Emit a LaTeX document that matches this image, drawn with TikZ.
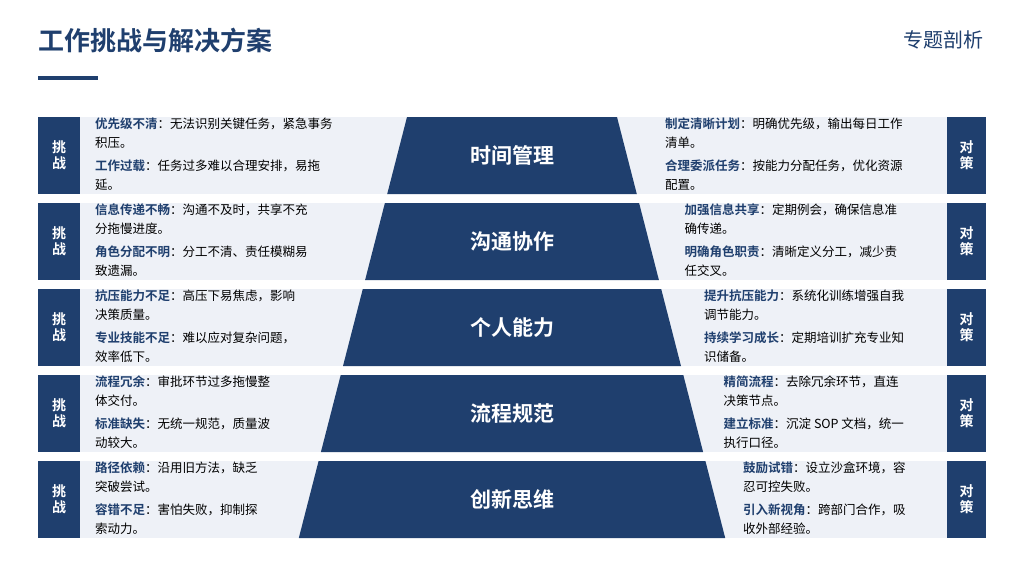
\documentclass[tikz,border=0pt]{standalone}
\usepackage{fontspec}
\setmainfont{Noto Sans CJK SC}
\newfontfamily\cjkb{Noto Sans CJK SC Bold}
\definecolor{navy}{HTML}{1F3F6E}
\definecolor{pale}{HTML}{EEF1F7}
\begin{document}
\begin{tikzpicture}[x=1pt,y=-1pt,
  tag/.style={fill=navy,text=white,font=\cjkb\fontsize{14}{16}\selectfont,align=center,inner sep=0},
  txt/.style={anchor=north west,align=left,inner sep=0,font=\fontsize{12.5}{19}\selectfont},
  ttl/.style={text=white,font=\cjkb\fontsize{21}{24}\selectfont}]
\useasboundingbox (0,0) rectangle (1024,576);
\fill[white] (0,0) rectangle (1024,576);
\node[anchor=west,text=navy,font=\cjkb\fontsize{26}{30}\selectfont,inner sep=0] (title) at (38,40) {工作挑战与解决方案};
\fill[navy] (38,76) rectangle (98,80);
\node[anchor=east,text=navy,font=\fontsize{20}{24}\selectfont,inner sep=0] (sub) at (984,40) {专题剖析};
\newcommand{\Lb}[1]{{\cjkb\color{navy}#1}}
\foreach \i/\T/\LA/\LB/\RA/\RB in {
 0/时间管理/{\Lb{优先级不清}：无法识别关键任务，紧急事务\\积压。}/{\Lb{工作过载}：任务过多难以合理安排，易拖\\延。}/{\Lb{制定清晰计划}：明确优先级，输出每日工作\\清单。}/{\Lb{合理委派任务}：按能力分配任务，优化资源\\配置。},
 1/沟通协作/{\Lb{信息传递不畅}：沟通不及时，共享不充\\分拖慢进度。}/{\Lb{角色分配不明}：分工不清、责任模糊易\\致遗漏。}/{\Lb{加强信息共享}：定期例会，确保信息准\\确传递。}/{\Lb{明确角色职责}：清晰定义分工，减少责\\任交叉。},
 2/个人能力/{\Lb{抗压能力不足}：高压下易焦虑，影响\\决策质量。}/{\Lb{专业技能不足}：难以应对复杂问题，\\效率低下。}/{\Lb{提升抗压能力}：系统化训练增强自我\\调节能力。}/{\Lb{持续学习成长}：定期培训扩充专业知\\识储备。},
 3/流程规范/{\Lb{流程冗余}：审批环节过多拖慢整\\体交付。}/{\Lb{标准缺失}：无统一规范，质量波\\动较大。}/{\Lb{精简流程}：去除冗余环节，直连\\决策节点。}/{\Lb{建立标准}：沉淀 SOP 文档，统一\\执行口径。},
 4/创新思维/{\Lb{路径依赖}：沿用旧方法，缺乏\\突破尝试。}/{\Lb{容错不足}：害怕失败，抑制探\\索动力。}/{\Lb{鼓励试错}：设立沙盒环境，容\\忍可控失败。}/{\Lb{引入新视角}：跨部门合作，吸\\收外部经验。}}{
  \pgfmathsetmacro{\yt}{117+86*\i}
  \pgfmathsetmacro{\yb}{\yt+77}
  \pgfmathsetmacro{\wt}{105+0.257*(\yt-117)}
  \pgfmathsetmacro{\wb}{105+0.257*(\yb-117)}
  \pgfmathsetmacro{\rx}{665+19.5*\i}
  \fill[pale] (80,\yt) rectangle (947,\yb);
  \fill[navy] (512-\wt,\yt) -- (512+\wt,\yt) -- (512+\wb,\yb) -- (512-\wb,\yb) -- cycle;
  \node[tag,minimum width=42,minimum height=77] (lt\i) at (59,\yt+38.5) {挑\\战};
  \node[tag,minimum width=39,minimum height=77] (rt\i) at (966.5,\yt+38.5) {对\\策};
  \node[ttl] (c\i) at (512,\yt+38.5) {\T};
  \node[txt] (la\i) at (95,\yt+1) {\LA};
  \node[txt] (lb\i) at (95,\yt+43) {\LB};
  \node[txt] (ra\i) at (\rx,\yt+1) {\RA};
  \node[txt] (rb\i) at (\rx,\yt+43) {\RB};
}
\end{tikzpicture}
\end{document}
